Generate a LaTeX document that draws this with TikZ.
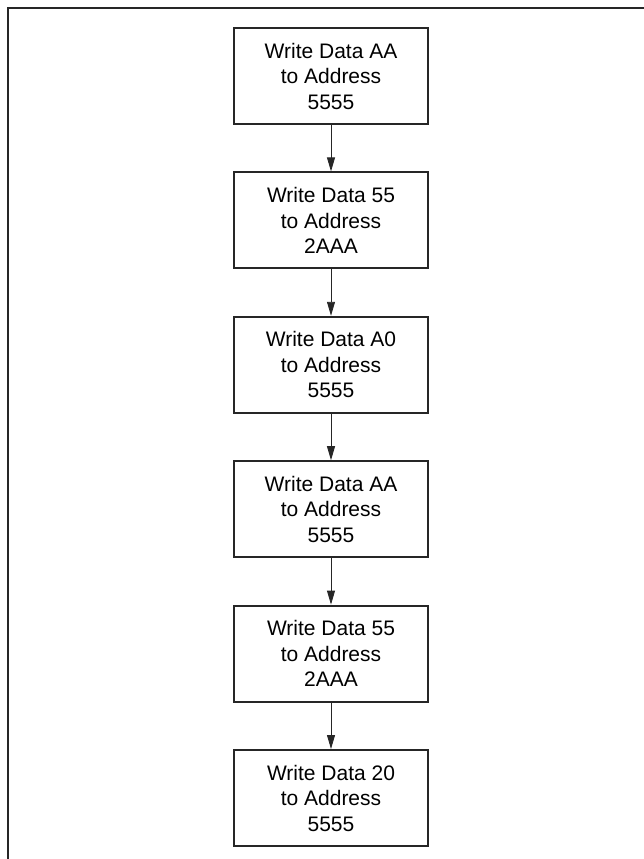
\documentclass[tikz,border=0pt]{standalone}
\usepackage{fontspec}
\setmainfont{Liberation Sans}
\usetikzlibrary{arrows.meta}
\begin{document}
\begin{tikzpicture}[x=1pt,y=1pt,
  stepbox/.style={draw=black!85,line width=2pt,minimum width=194pt,minimum height=96pt,
    inner sep=0pt,align=center,font=\fontsize{21}{25.5}\selectfont},
  flow/.style={draw=black!85,line width=0.9pt,-{Triangle[length=14pt,width=8pt]}}]
\useasboundingbox (0,0) rectangle (644,-859);
\begin{scope}
\clip (0,0) rectangle (644,-859);
\draw[line width=2pt,black!85] (8,-880) -- (8,-8) -- (660,-8);
\end{scope}
\node[stepbox] (b1) at (331,-76) {Write Data AA\\to Address\\5555};
\node[stepbox] (b2) at (331,-220.4) {Write Data 55\\to Address\\2AAA};
\node[stepbox] (b3) at (331,-364.8) {Write Data A0\\to Address\\5555};
\node[stepbox] (b4) at (331,-509.2) {Write Data AA\\to Address\\5555};
\node[stepbox] (b5) at (331,-653.6) {Write Data 55\\to Address\\2AAA};
\node[stepbox] (b6) at (331,-798) {Write Data 20\\to Address\\5555};
\draw[flow] (b1) -- (b2);
\draw[flow] (b2) -- (b3);
\draw[flow] (b3) -- (b4);
\draw[flow] (b4) -- (b5);
\draw[flow] (b5) -- (b6);
\end{tikzpicture}
\end{document}
